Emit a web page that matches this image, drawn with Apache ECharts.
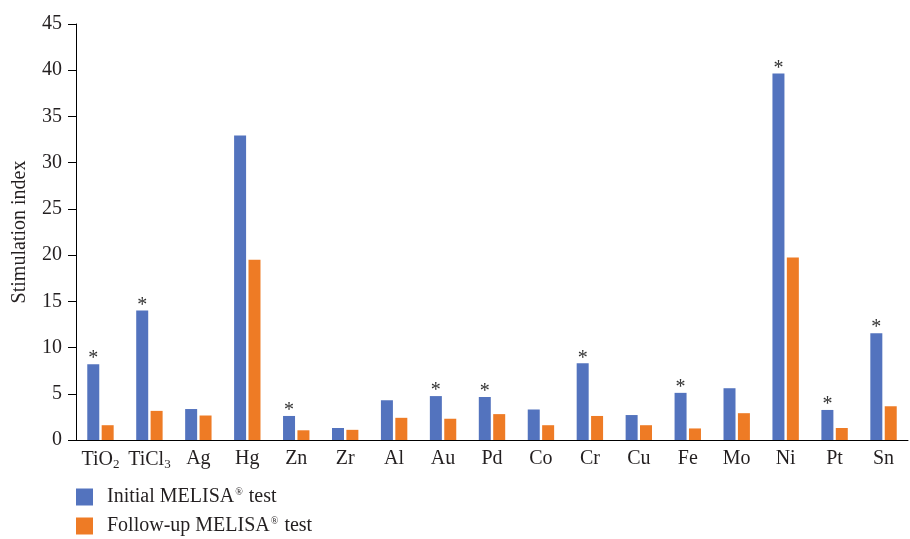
<!DOCTYPE html>
<html>
<head>
<meta charset="utf-8">
<script src="https://cdn.jsdelivr.net/npm/echarts@6/dist/echarts.min.js"></script>
<style>html,body{margin:0;padding:0;background:#fff;}#c{width:910px;height:539px;}</style>
</head>
<body>
<div id="c"></div>
<script>
const categories = ['TiO2','TiCl3','Ag','Hg','Zn','Zr','Al','Au','Pd','Co','Cr','Cu','Fe','Mo','Ni','Pt','Sn'];
const initialValues = [8.2, 14.0, 3.35, 32.95, 2.6, 1.3, 4.3, 4.75, 4.65, 3.3, 8.3, 2.7, 5.1, 5.6, 39.65, 3.25, 11.55];
const followUpValues = [1.6, 3.15, 2.65, 19.5, 1.05, 1.1, 2.4, 2.3, 2.8, 1.6, 2.6, 1.6, 1.25, 2.9, 19.75, 1.3, 3.65];
const significant = [true, true, false, false, true, false, false, true, true, false, true, false, true, false, true, true, true];
const yTicks = { min: 0, max: 45, interval: 5 };
const seriesNames = ['Initial MELISA® test', 'Follow-up MELISA® test'];

const font = 'Liberation Serif';
const txt = '#231F20';
const chart = echarts.init(document.getElementById('c'));
const catLabel = {
  'TiO2': 'TiO{sub|2}',
  'TiCl3': 'TiCl{sub|3}'
};
function legendAt(name, top) {
  return {
    orient: 'vertical', left: 76, top: top, padding: 0,
    itemWidth: 17, itemHeight: 17, icon: 'rect',
    data: [name],
    formatter: function (n) { return n.replace('®', '{sup|®}'); },
    textStyle: {
      fontFamily: font, fontSize: 20, color: txt, padding: [0, 0, 0, 9],
      rich: { sup: { fontFamily: font, fontSize: 10, color: txt, verticalAlign: 'top', padding: [0, 1, 9, 1] } }
    }
  };
}
chart.setOption({
  animation: false,
  textStyle: { fontFamily: font },
  grid: { left: 76, right: 2, top: 24, bottom: 99, containLabel: false },
  legend: [legendAt(seriesNames[0], 487), legendAt(seriesNames[1], 516)],
  xAxis: {
    type: 'category', data: categories,
    axisLine: { lineStyle: { color: '#000', width: 1 } },
    axisTick: { show: false },
    axisLabel: {
      fontFamily: font, fontSize: 20, color: txt, margin: 9, interval: 0,
      formatter: function (v) { return catLabel[v] || v; },
      rich: { sub: { fontFamily: font, fontSize: 13, color: txt, verticalAlign: 'bottom', padding: [9, 0, 0, 0] } }
    }
  },
  yAxis: {
    type: 'value', min: yTicks.min, max: yTicks.max, interval: yTicks.interval,
    name: 'Stimulation index', nameLocation: 'middle', nameGap: 46, nameRotate: 90,
    nameTextStyle: { fontFamily: font, fontSize: 20, color: txt },
    axisLine: { show: true, lineStyle: { color: '#000', width: 1 } },
    axisTick: { show: true, length: 8, lineStyle: { color: '#000' } },
    splitLine: { show: false },
    axisLabel: { fontFamily: font, fontSize: 20, color: txt, margin: 14 }
  },
  series: [
    {
      name: seriesNames[0], type: 'bar', barWidth: 12, barGap: '20%',
      itemStyle: { color: '#5373BE' },
      data: initialValues.map(function (v, i) {
        return {
          value: v,
          label: {
            show: significant[i], position: 'top', distance: -5, formatter: '*',
            fontFamily: font, fontSize: 20, color: '#333'
          }
        };
      })
    },
    {
      name: seriesNames[1], type: 'bar', barWidth: 12,
      itemStyle: { color: '#EE7B25' },
      data: followUpValues
    }
  ]
});
</script>
</body>
</html>
